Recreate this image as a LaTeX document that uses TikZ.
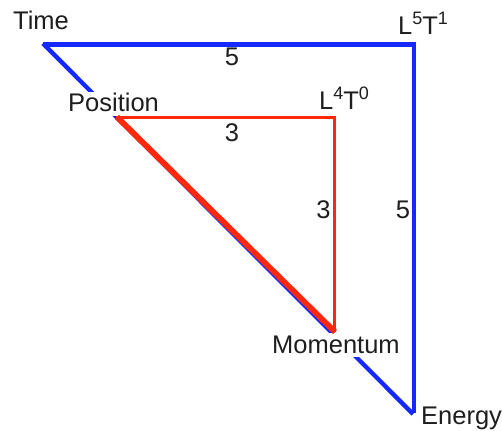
\documentclass[tikz,border=0pt]{standalone}
\usepackage{fontspec}
\setmainfont{Liberation Sans}
\definecolor{lblue}{RGB}{20,40,255}
\definecolor{lred}{RGB}{255,40,10}
\definecolor{ltext}{RGB}{30,30,30}
\newcommand{\upnum}[1]{\raisebox{10pt}{\fontsize{18}{18}\selectfont #1}}
\begin{document}
\begin{tikzpicture}[x=1pt,y=-1pt,
  lbl/.style={inner sep=0pt,text=ltext,font=\fontsize{25.5}{30}\selectfont},
  boxlbl/.style={lbl,fill=white,inner xsep=2pt,text height=20pt,text depth=4pt},
  blueline/.style={draw=lblue,line width=4.3pt},
  redline/.style={draw=lred,line width=3.9pt},
  reddiag/.style={draw=lred,line width=5.8pt}]
\useasboundingbox[fill=white] (0,0) rectangle (502,430);
% corners
\coordinate (time) at (43,44.5);
\coordinate (tr) at (413.7,44.5);
\coordinate (energy) at (413.7,413);
\coordinate (timed) at (43,43.5);
\coordinate (energyd) at (413,414);
\coordinate (pos) at (116,117.5);
\coordinate (posd) at (117,117);
\coordinate (l4) at (334.5,117.5);
\coordinate (mom) at (334.5,332);
\coordinate (momd) at (335,332);
% blue triangle
\draw[blueline,line join=miter] (time) -- (tr) -- (energy);
\draw[blueline] (timed) -- (energyd);
% labels
\node[lbl,anchor=base west] (ltime) at (13,30) {Time};
\node[lbl,anchor=base west] (l5t1) at (398,35) {L\upnum{5}T\upnum{1}};
\node[lbl,anchor=base] (n5a) at (232,66) {5};
\node[boxlbl,anchor=base west] (lpos) at (66,112) {Position};
\node[lbl,anchor=base west] (l4t0) at (319,110) {L\upnum{4}T\upnum{0}};
\node[lbl,anchor=base] (n3a) at (232,142) {3};
\node[lbl,anchor=base] (n3b) at (323.5,218) {3};
\node[lbl,anchor=base] (n5b) at (403,218) {5};
\node[boxlbl,anchor=base west] (lmom) at (270,353) {Momentum};
\node[lbl,anchor=base west] (lenergy) at (421,424) {Energy};
% red triangle
\draw[redline,line join=miter] (pos) -- (l4) -- (mom);
\draw[reddiag] (posd) -- (momd);
\end{tikzpicture}
\end{document}
